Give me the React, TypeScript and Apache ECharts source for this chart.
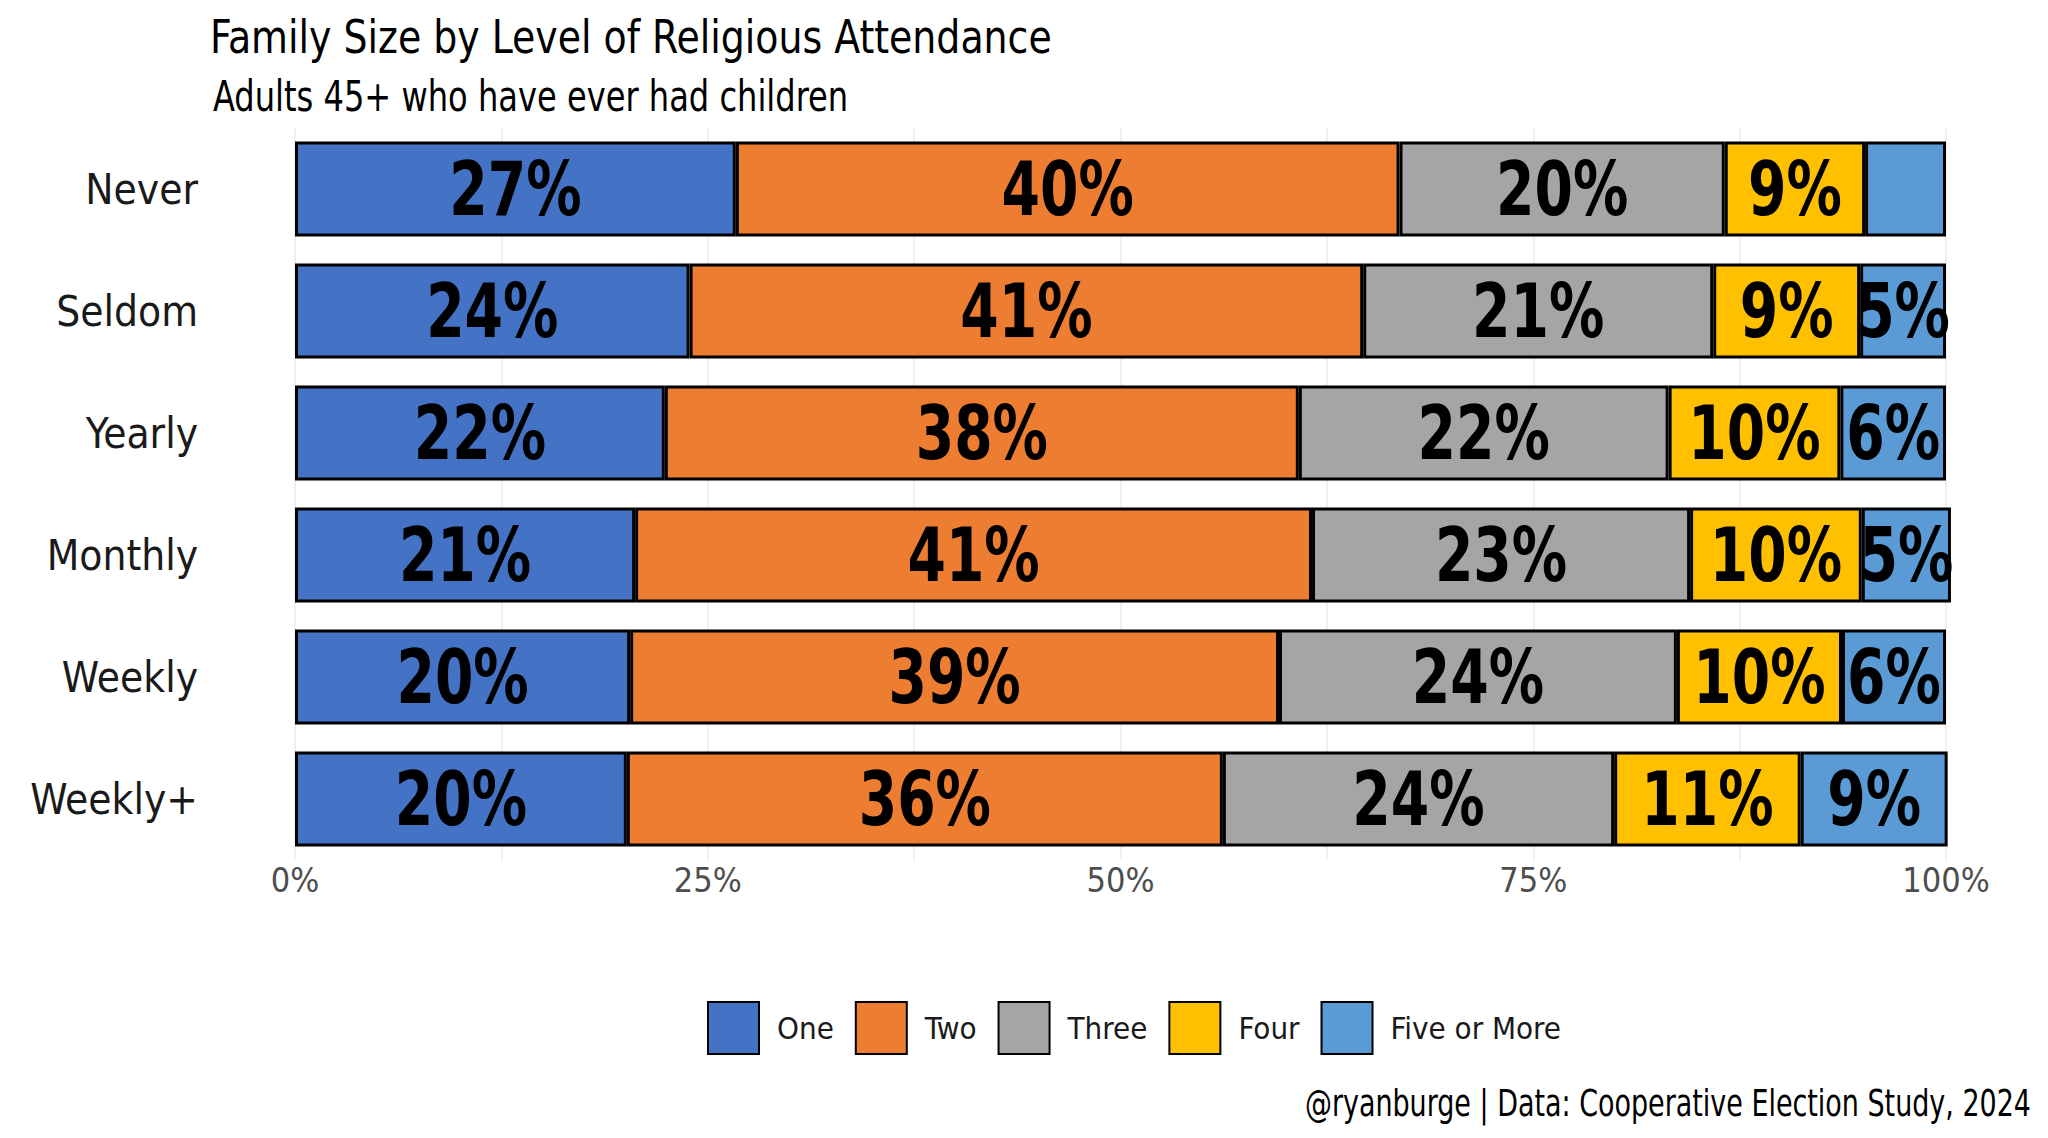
import React, { useEffect, useRef } from "react";
import * as echarts from "echarts";

const categories = ["Never", "Seldom", "Yearly", "Monthly", "Weekly", "Weekly+"];
const seriesNames = ["One", "Two", "Three", "Four", "Five or More"];
const one = [26.7, 23.9, 22.4, 20.6, 20.3, 20.1];
const two = [40.2, 40.8, 38.4, 41.0, 39.3, 36.1];
const three = [19.7, 21.2, 22.4, 22.9, 24.1, 23.7];
const four = [8.5, 8.9, 10.4, 10.4, 10.0, 11.3];
const fiveOrMore = [4.9, 5.2, 6.4, 5.4, 6.3, 8.9];
const colors = ["#4472C4", "#ED7D31", "#A5A5A5", "#FFC000", "#5B9BD5"];
const xTickValues = [0, 25, 50, 75, 100];

const titleText = "Family Size by Level of Religious Attendance";
const subtitleText = "Adults 45+ who have ever had children";
const captionText = "@ryanburge | Data: Cooperative Election Study, 2024";

const FONT = "'Liberation Sans Narrow', 'DejaVu Sans Condensed', 'Roboto Condensed', sans-serif";

export default function App() {
  const ref = useRef<HTMLDivElement>(null);

  useEffect(() => {
    document.body.style.margin = "0";
    if (!ref.current) return;
    const chart = echarts.init(ref.current, undefined, { renderer: "svg" });
    const values = [one, two, three, four, fiveOrMore];
    const series: any[] = seriesNames.map((name, i) => ({
      name,
      type: "bar",
      stack: "total",
      barWidth: 95,
      clip: false,
      data: values[i],
      itemStyle: { color: colors[i], borderColor: "#000", borderWidth: 3 },
    }));

    // label table built from the series arrays: [start, end, categoryIndex, text]
    const labelData: any[] = [];
    categories.forEach((_, j) => {
      let start = 0;
      values.forEach((arr) => {
        const v = arr[j];
        const end = start + v;
        labelData.push([start, end, j, v >= 5 ? Math.round(v) + "%" : ""]);
        start = end;
      });
    });

    series.push({
      type: "custom",
      clip: false,
      z: 5,
      silent: true,
      encode: { x: [0, 1], y: 2 },
      data: labelData,
      renderItem: (params: any, api: any) => {
        const s = api.value(0);
        const e = api.value(1);
        const c = api.value(2);
        const txt = labelData[params.dataIndex][3];
        const pt = api.coord([(s + e) / 2, c]);
        return {
          type: "text",
          x: pt[0],
          y: pt[1],
          scaleX: 0.83,
          style: {
            text: txt,
            fontFamily: FONT,
            fontWeight: "bold",
            fontSize: 74,
            fill: "#000",
            align: "center",
            verticalAlign: "middle",
          },
        };
      },
    });

    chart.setOption({
      animation: false,
      backgroundColor: "#fff",
      textStyle: { fontFamily: FONT },
      grid: { left: 295, width: 1651, top: 128, height: 732, containLabel: false },
      xAxis: {
        type: "value",
        min: 0,
        max: 100,
        interval: 25,
        axisLine: { show: false },
        axisTick: { show: false },
        axisLabel: {
          fontFamily: FONT,
          fontSize: 34,
          color: "#4d4d4d",
          margin: 20,
          verticalAlign: "middle",
          formatter: (v: number) => (xTickValues.includes(v) ? v + "%" : ""),
        },
        splitLine: { show: true, lineStyle: { color: "#ebebeb", width: 1.5 } },
        minorTick: { show: false, splitNumber: 2 },
        minorSplitLine: { show: true, lineStyle: { color: "#ebebeb", width: 1.5 } },
      },
      yAxis: {
        type: "category",
        data: categories,
        inverse: true,
        axisLine: { show: false },
        axisTick: { show: false },
        splitLine: { show: false },
        axisLabel: {
          fontFamily: FONT,
          fontSize: 42,
          color: "#1a1a1a",
          margin: 97,
        },
      },
      legend: {
        data: seriesNames,
        left: 707,
        top: 1001,
        padding: 0,
        itemWidth: 51,
        itemHeight: 52,
        itemGap: 21,
        icon: "rect",
        textStyle: {
          fontFamily: FONT,
          fontSize: 31,
          color: "#1a1a1a",
          padding: [0, 0, 0, 13],
        },
      },
      graphic: [
        {
          type: "text",
          x: 210,
          y: 37,
          scaleX: 0.915,
          style: { text: titleText, fontFamily: FONT, fontSize: 46, fill: "#000", verticalAlign: "middle" },
        },
        {
          type: "text",
          x: 213,
          y: 96,
          scaleX: 0.85,
          style: { text: subtitleText, fontFamily: FONT, fontSize: 42, fill: "#000", verticalAlign: "middle" },
        },
        {
          type: "text",
          x: 2031,
          y: 1103,
          scaleX: 0.81,
          style: {
            text: captionText,
            fontFamily: FONT,
            fontSize: 37,
            fill: "#000",
            align: "right",
            verticalAlign: "middle",
          },
        },
      ],
      series,
    });
    return () => chart.dispose();
  }, []);

  return <div ref={ref} style={{ width: 2048, height: 1138 }} />;
}
